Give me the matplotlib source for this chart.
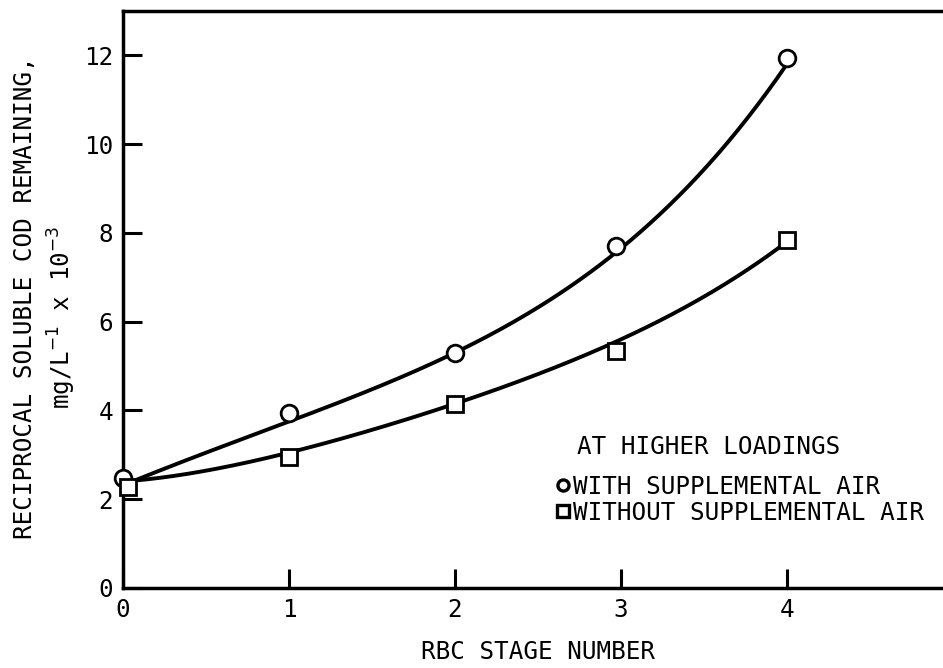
import numpy as np
import matplotlib.pyplot as plt
from matplotlib.lines import Line2D

plt.rcParams['font.family'] = ['DejaVu Sans Mono']
plt.rcParams['font.size'] = 17.5

# measured points, 1/COD remaining (mg/L)^-1 x 10^-3
stage_air = [0, 1, 2, 2.97, 4]
cod_air = [2.47, 3.95, 5.3, 7.7, 11.93]
stage_noair = [0.03, 1, 2, 2.97, 4]
cod_noair = [2.28, 2.96, 4.14, 5.34, 7.83]

# smoothed trend curves
curve_stage = [0.07, 1, 2, 3, 4]
curve_air = [2.42, 3.75, 5.3, 7.65, 11.8]
curve_noair = [2.42, 3.05, 4.15, 5.6, 7.8]

x_ticks = [0, 1, 2, 3, 4]
y_ticks = [0, 2, 4, 6, 8, 10, 12]

fig = plt.figure(figsize=(9.43, 6.68), dpi=100)
ax = fig.add_axes([0.1304, 0.1198, 0.880, 0.8638])

xs = np.linspace(curve_stage[0], curve_stage[-1], 200)
for vals in (curve_air, curve_noair):
    p = np.polyfit(curve_stage, vals, 4)
    ax.plot(xs, np.polyval(p, xs), color='black', lw=2.8, solid_capstyle='butt', zorder=2)

ax.plot(stage_air, cod_air, ls='none', marker='o', ms=12, mfc='white', mec='black', mew=2.0,
        zorder=3, clip_on=False)
ax.plot(stage_noair, cod_noair, ls='none', marker='s', ms=11, mfc='white', mec='black', mew=2.0,
        zorder=3, clip_on=False)

ax.set_xlim(0, 5)
ax.set_ylim(0, 13)
ax.set_xticks(x_ticks)
ax.set_yticks(y_ticks)
ax.tick_params(direction='in', length=14, width=2.2, pad=7)
ax.spines['right'].set_visible(False)
for s in ('left', 'bottom', 'top'):
    ax.spines[s].set_linewidth(2.5)

ax.set_xlabel('RBC STAGE NUMBER', labelpad=13)
fig.text(0.027, 0.555, 'RECIPROCAL SOLUBLE COD REMAINING,', rotation=90, ha='center', va='center')
fig.text(0.066, 0.525, r'mg/L$^{-1}$ x 10$^{-3}$', rotation=90, ha='center', va='center')

ax.text(0.547, 0.2444, 'AT HIGHER LOADINGS', transform=ax.transAxes, ha='left', va='center')
handles = [
    Line2D([], [], ls='none', marker='o', ms=8, mfc='white', mec='black', mew=2.4),
    Line2D([], [], ls='none', marker='s', ms=8, mfc='white', mec='black', mew=2.4),
]
leg = ax.legend(handles, ['WITH SUPPLEMENTAL AIR', 'WITHOUT SUPPLEMENTAL AIR'],
                loc='upper left', bbox_to_anchor=(0.522, 0.196), frameon=False,
                handlelength=0.6, handletextpad=0.1, labelspacing=0.08, borderpad=0,
                borderaxespad=0)

fig.savefig('out.png', dpi=100)
